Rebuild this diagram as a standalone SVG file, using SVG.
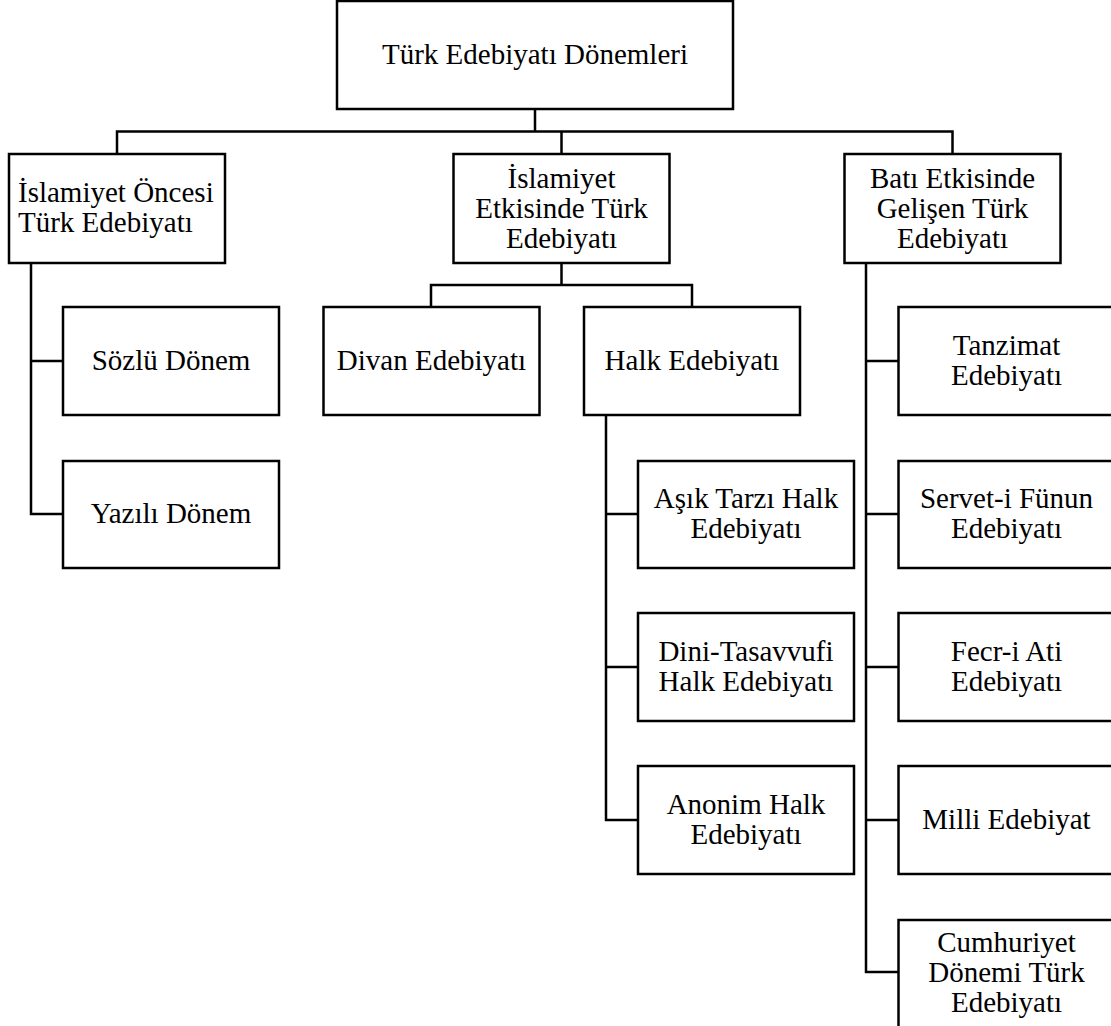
<svg xmlns="http://www.w3.org/2000/svg" width="1111" height="1026" viewBox="0 0 1111 1026">
<style>
.box{fill:#fff;stroke:#000;stroke-width:2.5}
.c{fill:none;stroke:#000;stroke-width:2.5}
text{font-family:"Liberation Serif","Times New Roman",serif;font-size:29px;fill:#000}
.m{text-anchor:middle}
</style>
<rect width="1111" height="1026" fill="#fff"/>
<g id="connectors">
<path class="c" d="M535 109V131.5M117 154V131.5H952.5V154M561.5 131.5V154"/>
<path class="c" d="M31 263V514H63M31 361H63"/>
<path class="c" d="M561.5 263V285M431 307V285H692V307"/>
<path class="c" d="M606 415V820H638M606 514H638M606 667H638"/>
<path class="c" d="M866 263V972H898.5M866 361H898.5M866 514H898.5M866 667H898.5M866 820H898.5"/>
</g>
<g id="root"><rect class="box" x="337" y="1" width="396" height="108"/><text class="m" x="535" y="64">Türk Edebiyatı Dönemleri</text></g>
<g id="islamiyet-oncesi"><rect class="box" x="9" y="154" width="216" height="109"/><text x="18" y="202">İslamiyet Öncesi</text><text x="18" y="232">Türk Edebiyatı</text></g>
<g id="islamiyet-etkisinde"><rect class="box" x="453.5" y="154" width="216" height="109"/><text class="m" x="561.5" y="187.5">İslamiyet</text><text class="m" x="561.5" y="217.5">Etkisinde Türk</text><text class="m" x="561.5" y="247.5">Edebiyatı</text></g>
<g id="bati-etkisinde"><rect class="box" x="844.5" y="154" width="216" height="109"/><text class="m" x="952.5" y="187.5">Batı Etkisinde</text><text class="m" x="952.5" y="217.5">Gelişen Türk</text><text class="m" x="952.5" y="247.5">Edebiyatı</text></g>
<g id="sozlu"><rect class="box" x="63" y="307" width="216" height="108"/><text class="m" x="171" y="370">Sözlü Dönem</text></g>
<g id="yazili"><rect class="box" x="63" y="461" width="216" height="107"/><text class="m" x="171" y="523">Yazılı Dönem</text></g>
<g id="divan"><rect class="box" x="323.5" y="307" width="216" height="108"/><text class="m" x="431.5" y="370">Divan Edebiyatı</text></g>
<g id="halk"><rect class="box" x="584" y="307" width="216" height="108"/><text class="m" x="692" y="370">Halk Edebiyatı</text></g>
<g id="asik"><rect class="box" x="638" y="461" width="216" height="107"/><text class="m" x="746" y="507.5">Aşık Tarzı Halk</text><text class="m" x="746" y="537.5">Edebiyatı</text></g>
<g id="dini"><rect class="box" x="638" y="613" width="216" height="108"/><text class="m" x="746" y="660.5">Dini-Tasavvufi</text><text class="m" x="746" y="690.5">Halk Edebiyatı</text></g>
<g id="anonim"><rect class="box" x="638" y="766" width="216" height="108"/><text class="m" x="746" y="813.5">Anonim Halk</text><text class="m" x="746" y="843.5">Edebiyatı</text></g>
<g id="tanzimat"><rect class="box" x="898.5" y="307" width="216" height="108"/><text class="m" x="1006.5" y="354.5">Tanzimat</text><text class="m" x="1006.5" y="384.5">Edebiyatı</text></g>
<g id="servet"><rect class="box" x="898.5" y="461" width="216" height="107"/><text class="m" x="1006.5" y="507.5">Servet-i Fünun</text><text class="m" x="1006.5" y="537.5">Edebiyatı</text></g>
<g id="fecr"><rect class="box" x="898.5" y="613" width="216" height="108"/><text class="m" x="1006.5" y="660.5">Fecr-i Ati</text><text class="m" x="1006.5" y="690.5">Edebiyatı</text></g>
<g id="milli"><rect class="box" x="898.5" y="766" width="216" height="108"/><text class="m" x="1006.5" y="829">Milli Edebiyat</text></g>
<g id="cumhuriyet"><rect class="box" x="898.5" y="920" width="216" height="110"/><text class="m" x="1006.5" y="952">Cumhuriyet</text><text class="m" x="1006.5" y="982">Dönemi Türk</text><text class="m" x="1006.5" y="1012">Edebiyatı</text></g>
</svg>
